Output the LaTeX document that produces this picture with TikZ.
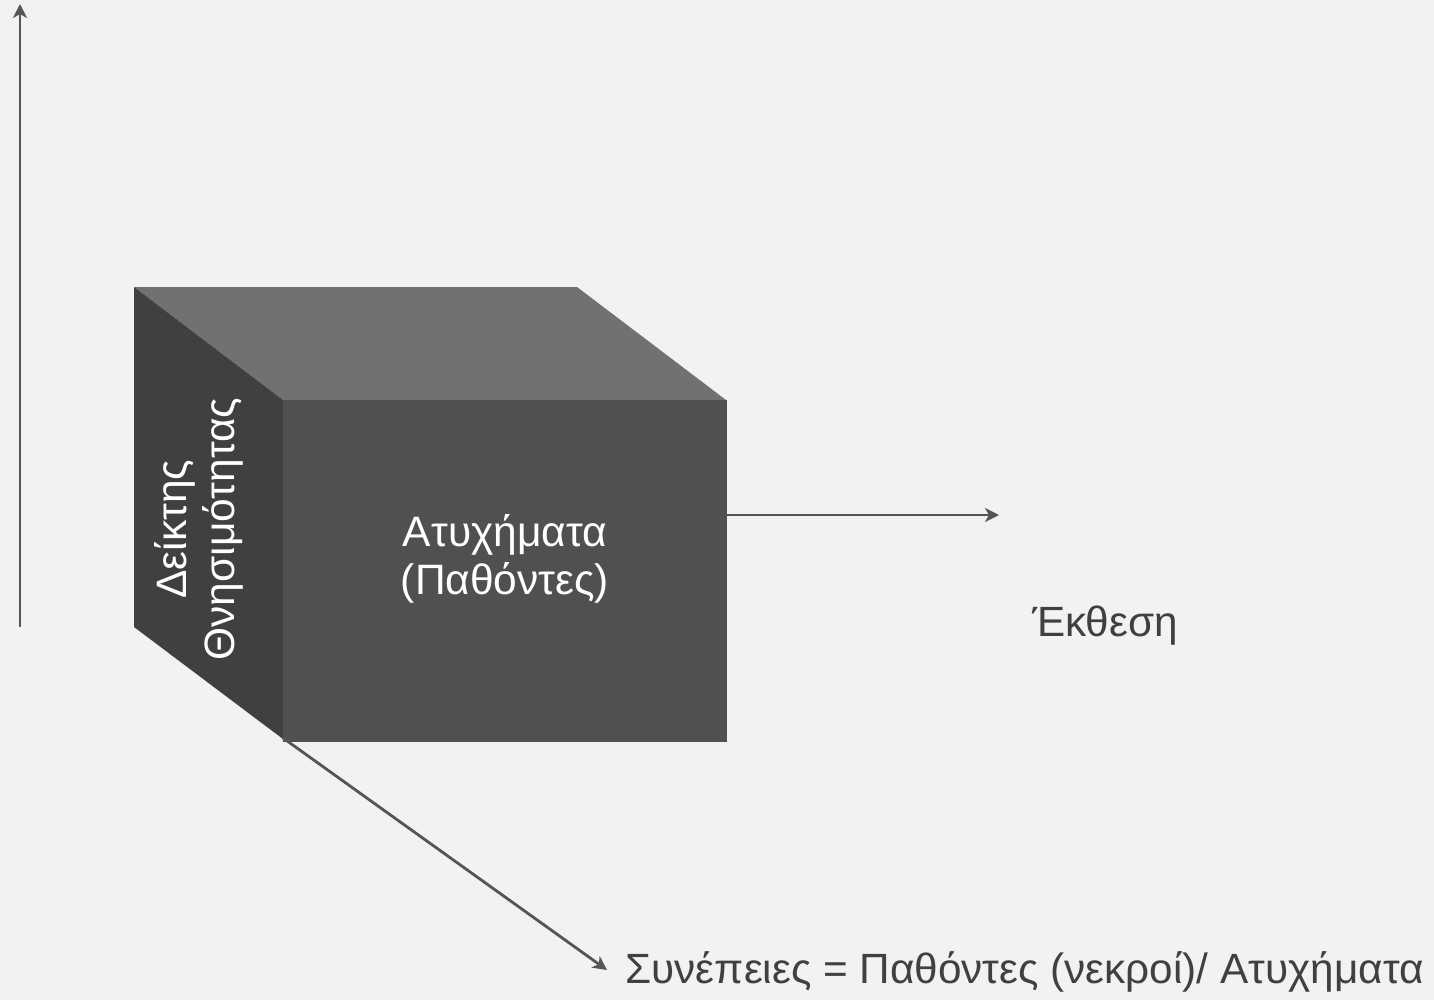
\documentclass[tikz,border=0pt]{standalone}
\usepackage{fontspec}
\setmainfont{Liberation Sans}
\usetikzlibrary{arrows.meta}
\definecolor{bg}{HTML}{F2F2F2}
\definecolor{topf}{HTML}{717171}
\definecolor{leftf}{HTML}{404040}
\definecolor{frontf}{HTML}{505050}
\definecolor{axis}{HTML}{555555}
\definecolor{txt}{HTML}{404040}
\tikzset{
  axisline/.style={draw=axis, line width=2.8pt, -{Stealth[length=14pt,width=14pt,inset=4pt]}},
  facetext/.style={text=white, font=\fontsize{42.5}{48}\selectfont, align=center},
  labeltext/.style={text=txt, font=\fontsize{42.3}{48}\selectfont}
}
\begin{document}
\begin{tikzpicture}[x=1pt,y=-1pt]
\fill[bg] (0,0) rectangle (1434,1000);
\useasboundingbox (0,0) rectangle (1434,1000);
% cube faces
\fill[topf] (134,287) -- (577,287) -- (726,400) -- (283,400) -- cycle;
\fill[leftf] (134,287) -- (283,400) -- (283,739) -- (134,627) -- cycle;
\fill[frontf] (283,400) rectangle (727,742);
% axis end points
\coordinate (vbase) at (20,627);
\coordinate (vtip) at (20,4);
\coordinate (hbase) at (727,515);
\coordinate (htip) at (999,515);
\coordinate (dbase) at (283,738);
\coordinate (dtip) at (607,970);
\draw[axisline] (vbase) -- (vtip);
\draw[axisline] (hbase) -- (htip);
\draw[axisline] (dbase) -- (dtip);
% texts
\node[facetext, rotate=90] (lf) at (199,529) {Δείκτης\\Θνησιμότητας};
\node[facetext] (ff) at (505,559) {Ατυχήματα\\(Παθόντες)};
\node[labeltext] (ek) at (1105,626) {Έκθεση};
\node[labeltext, anchor=west] (syn) at (622,972) {Συνέπειες = Παθόντες (νεκροί)/ Ατυχήματα};
\end{tikzpicture}
\end{document}
